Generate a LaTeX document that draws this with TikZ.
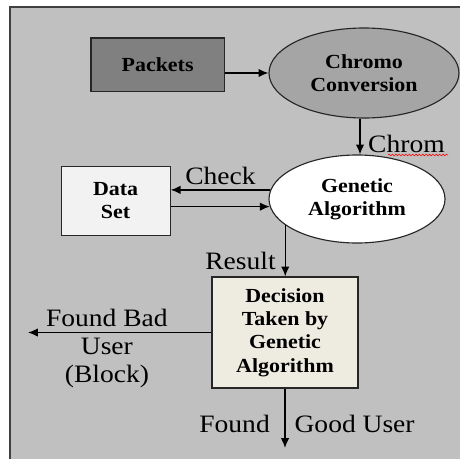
\documentclass[tikz,border=0pt]{standalone}
\usepackage{fontspec}
\setmainfont{Liberation Serif}[FakeStretch=1.1]
\usetikzlibrary{shapes.geometric,decorations.pathmorphing,arrows.meta}
\definecolor{panel}{HTML}{C0C0C0}
\definecolor{packetgray}{HTML}{808080}
\definecolor{chromogray}{HTML}{A5A5A5}
\definecolor{datagray}{HTML}{F2F2F2}
\definecolor{decisioncream}{HTML}{EEECE1}
\begin{document}
\begin{tikzpicture}[
  box/.style={draw=black!85, line width=0.8pt, inner sep=0pt, align=center,
    font=\bfseries\fontsize{14.2}{16.5}\selectfont},
  oval/.style={box, ellipse},
  lab/.style={align=center, font=\fontsize{17.8}{20}\selectfont},
  arr/.style={>={Latex[length=7pt,width=6pt]}, ->, line width=1pt}
]
  \useasboundingbox (0,0) rectangle (11.5,11.475);
  % background panel
  \fill[panel] (0.24,0) rectangle (11.5,11.31);
  \draw[line width=1.4pt, black!75] (0.24,0) -- (0.24,11.31) -- (11.5,11.31);

  % blocks
  \node[box, fill=packetgray, minimum width=3.33cm, minimum height=1.33cm] (packets) at (3.94,9.86) {Packets};
  \node[oval, fill=chromogray, minimum width=4.75cm, minimum height=2.25cm] (chromo) at (9.1,9.65) {Chromo\\Conversion};
  \node[oval, fill=white, minimum width=4.4cm, minimum height=2.2cm] (gen) at (8.925,6.5) {Genetic\\Algorithm};
  \node[box, fill=datagray, minimum width=2.725cm, minimum height=1.725cm] (data) at (2.89,6.46) {Data\\Set};
  \node[box, fill=decisioncream, minimum width=3.65cm, minimum height=2.775cm] (dec) at (7.125,3.1625)
    {Decision\\Taken by\\Genetic\\Algorithm};
  \coordinate (bad) at (0.7,3.175);
  \coordinate (good) at (7.15,0.275);

  % arrows
  \draw[arr] (packets.east |- chromo.west) -- (chromo.west);
  \draw[arr] (chromo.265) -- (chromo.265 |- gen.north)
    node[lab, right, pos=0.7, xshift=2pt] (chrom) {Chrom};
  \draw[red, line width=0.4pt, decorate, decoration={snake, amplitude=0.6pt, segment length=2.4pt}]
    (9.7,7.6) -- (11.2,7.6);
  \draw[arr] (gen.174) -- (gen.174 -| data.east) node[lab, above, midway] {Check};
  \draw[arr] (data.east |- gen.185) -- (gen.185);
  \draw[arr] (gen.200) -- (gen.200 |- dec.north) node[lab, left, pos=0.7, xshift=-3pt] {Result};
  \draw[arr] (dec.west) -- (dec.west -| bad)
    node[lab, above, pos=0.57] {Found Bad}
    node[lab, below, pos=0.57] {User\\(Block)};
  \draw[arr] (dec.south) -- (dec.south |- good)
    node[lab, left, pos=0.6, xshift=-7pt] {Found}
    node[lab, right, pos=0.6, xshift=3pt] {Good User};
\end{tikzpicture}
\end{document}
